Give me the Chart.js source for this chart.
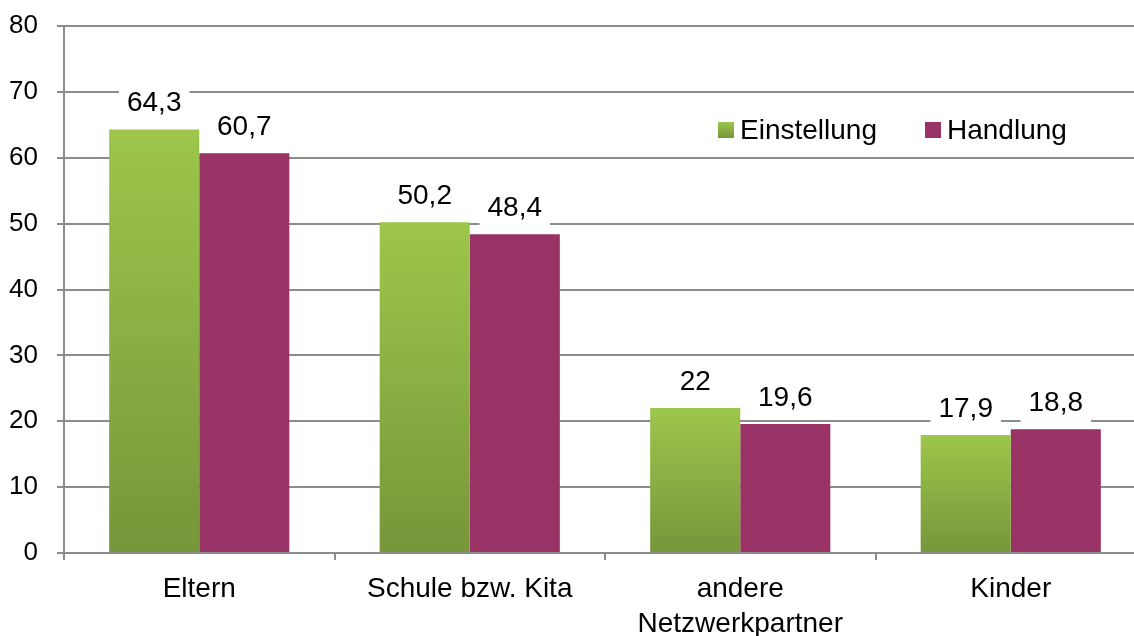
<!DOCTYPE html>
<html>
<head>
<meta charset="utf-8">
<script src="https://cdn.jsdelivr.net/npm/chart.js@4/dist/chart.umd.min.js"></script>
<style>
  html, body { margin: 0; padding: 0; background: #fff; overflow: hidden; }
  #wrap { width: 1134px; height: 636px; overflow: hidden; }
</style>
</head>
<body>
<div id="wrap"><canvas id="chart" width="1146" height="636"></canvas></div>
<script>
// ----- Data -----
const categories = ['Eltern', 'Schule bzw. Kita', ['andere', 'Netzwerkpartner'], 'Kinder'];
const einstellung = [64.3, 50.2, 22, 17.9];
const handlung = [60.7, 48.4, 19.6, 18.8];
const yTicks = [0, 10, 20, 30, 40, 50, 60, 70, 80];

const FONT = '"Liberation Sans", Arial, sans-serif';
const GREEN_TOP = '#9dc64b';
const GREEN_BOTTOM = '#76963a';
const PLUM = '#993366';

const fmt = v => String(v).replace('.', ',');

// vertical gradient per bar, from bar top to axis
function greenFill(context) {
  const chart = context.chart;
  const area = chart.chartArea;
  if (!area || context.type !== 'data') return GREEN_TOP;
  const yScale = chart.scales.y;
  const top = yScale.getPixelForValue(context.raw);
  const g = chart.ctx.createLinearGradient(0, top, 0, area.bottom);
  g.addColorStop(0, GREEN_TOP);
  g.addColorStop(1, GREEN_BOTTOM);
  return g;
}

// ----- Plugins -----

const valueLabels = {
  id: 'valueLabels',
  afterDatasetsDraw(chart) {
    const ctx = chart.ctx;
    ctx.save();
    ctx.font = '28px ' + FONT;
    ctx.textAlign = 'center';
    ctx.textBaseline = 'middle';
    chart.data.datasets.forEach((ds, di) => {
      chart.getDatasetMeta(di).data.forEach((bar, i) => {
        const text = fmt(ds.data[i]);
        const w = ctx.measureText(text).width + 16;
        const cy = bar.y - 26;
        ctx.fillStyle = '#fff';
        ctx.fillRect(bar.x - w / 2, cy - 20, w, 40);
        ctx.fillStyle = '#000';
        ctx.fillText(text, bar.x, cy);
      });
    });
    ctx.restore();
  },
};

const insideLegend = {
  id: 'insideLegend',
  afterDraw(chart) {
    const ctx = chart.ctx;
    const area = chart.chartArea;
    const y = area.top + 104;
    const items = [
      { label: 'Einstellung', x: 718, color: GREEN_TOP },
      { label: 'Handlung', x: 925, color: PLUM },
    ];
    ctx.save();
    ctx.font = '28px ' + FONT;
    ctx.textBaseline = 'middle';
    items.forEach(it => {
      if (it.label === 'Einstellung') {
        const g = ctx.createLinearGradient(0, y - 8, 0, y + 8);
        g.addColorStop(0, GREEN_TOP);
        g.addColorStop(1, GREEN_BOTTOM);
        ctx.fillStyle = g;
      } else {
        ctx.fillStyle = it.color;
      }
      ctx.fillRect(it.x, y - 8, 16, 16);
      ctx.fillStyle = '#000';
      ctx.fillText(it.label, it.x + 22, y + 1);
    });
    ctx.restore();
  },
};

// ----- Chart -----

new Chart(document.getElementById('chart'), {
  type: 'bar',
  data: {
    labels: categories,
    datasets: [
      { label: 'Einstellung', data: einstellung, backgroundColor: greenFill },
      { label: 'Handlung', data: handlung, backgroundColor: PLUM },
    ],
  },
  options: {
    responsive: false,
    animation: false,
    devicePixelRatio: 1,
    categoryPercentage: 0.666,
    barPercentage: 1,
    layout: { padding: { top: 26, right: 0, left: 0, bottom: 0 } },
    plugins: {
      legend: { display: false },
      tooltip: { enabled: false },
    },
    scales: {
      x: {
        grid: {
          offset: true,
          drawOnChartArea: false,
          drawTicks: true,
          tickLength: 7,
          color: '#8c8c8c',
          lineWidth: 2,
        },
        border: { color: '#8c8c8c', width: 2 },
        ticks: {
          color: '#000',
          font: { family: FONT, size: 28, lineHeight: 1.25 },
          padding: 12,
          maxRotation: 0,
          autoSkip: false,
        },
        afterFit(scale) {
          scale.height = 83;
          scale.paddingLeft = 0;
          scale.paddingRight = 0;
        },
      },
      y: {
        min: 0,
        max: 80,
        afterBuildTicks(scale) { scale.ticks = yTicks.map(v => ({ value: v })); },
        grid: {
          color: '#8c8c8c',
          lineWidth: 2,
          tickLength: 7,
        },
        border: { color: '#8c8c8c', width: 2 },
        ticks: {
          color: '#000',
          font: { family: FONT, size: 26 },
          padding: 19,
        },
        afterFit(scale) {
          scale.width = 64;
          scale.paddingTop = 0;
          scale.paddingBottom = 0;
        },
      },
    },
  },
  plugins: [valueLabels, insideLegend],
});
</script>
</body>
</html>
